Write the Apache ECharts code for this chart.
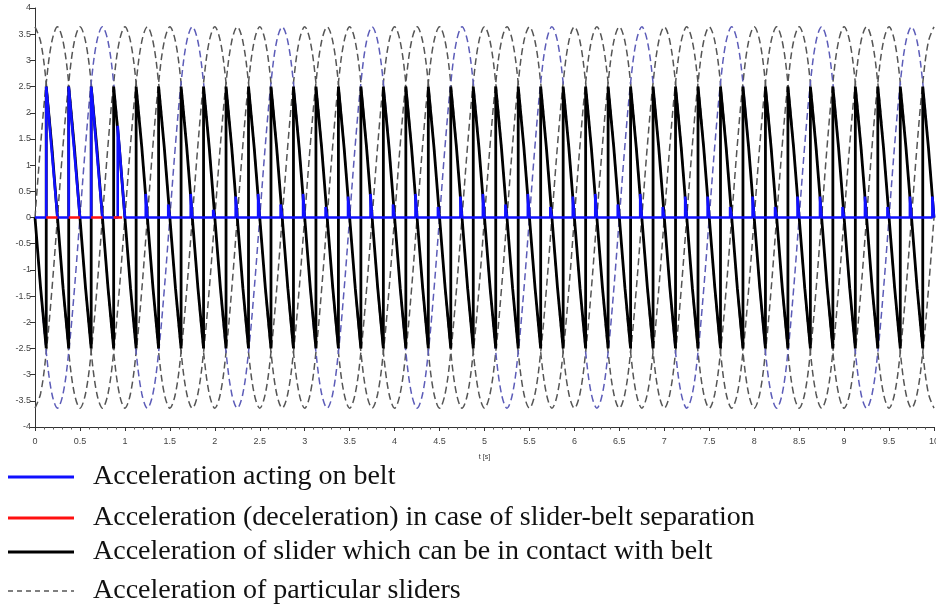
<!DOCTYPE html>
<html>
<head>
<meta charset="utf-8">
<script src="https://cdn.jsdelivr.net/npm/echarts@6/dist/echarts.min.js"></script>
<style>
  html, body { margin: 0; padding: 0; background: #fff; }
  #chart { width: 936px; height: 608px; }
</style>
</head>
<body>
<div id="chart"></div>
<script>
// ---- data ----
// one period (1 s) of a slider's acceleration, sampled every 1/16 s, peak at t = 0
const sliderCycle = [3.64, 3.36, 2.57, 1.39, 0, -1.39, -2.57, -3.36, -3.64, -3.36, -2.57, -1.39, 0, 1.39, 2.57, 3.36];
const sliderStep = 1 / 16;
// time of first peak of each particular slider (s)
const sliderPeaks = [0, 0.25, 0.5, 0.75];
const sliderColors = ['#555555', '#555555', '#555555', '#5c5cb8'];
// one tooth of the "slider in contact" curve: [time offset, value]
const contactTooth = [[0, -2.5], [0, 2.5], [0.0625, 1.35], [0.125, 0], [0.1875, -1.35], [0.25, -2.5]];
const toothFirstJump = 0.125;   // time of first jump
const toothPeriod = 0.25;
// belt acceleration: first teeth [jump time, peak value, time back at zero]
const beltTeeth = [[0.125, 2.5, 0.25], [0.375, 2.5, 0.5], [0.625, 2.5, 0.75], [0.92, 1.75, 1.0]];
// later small spikes on belt acceleration at t = 1.25, 1.5, ... 10
const spikeTimes = [1.25, 1.5, 1.75, 2, 2.25, 2.5, 2.75, 3, 3.25, 3.5, 3.75, 4, 4.25, 4.5, 4.75, 5, 5.25, 5.5, 5.75, 6, 6.25, 6.5, 6.75, 7, 7.25, 7.5, 7.75, 8, 8.25, 8.5, 8.75, 9, 9.25, 9.5, 9.75, 10];
const spikeHeights = [0.45, 0.25, 0.45, 0.15, 0.4, 0.45, 0.25, 0.45, 0.2, 0.4, 0.45, 0.25, 0.45, 0.2, 0.4, 0.45, 0.25, 0.45, 0.2, 0.4, 0.45, 0.25, 0.45, 0.2, 0.4, 0.4, 0.2, 0.4, 0.2, 0.4, 0.4, 0.2, 0.4, 0.2, 0.4, 0.4];
// separation (red) segments at zero: [start, end]
const separation = [[0.125, 0.25], [0.375, 0.5], [0.625, 0.75], [0.875, 0.97]];
const legendNames = [
  'Acceleration acting on belt',
  'Acceleration (deceleration) in case of slider-belt separation',
  'Acceleration of slider which can be in contact with belt',
  'Acceleration of particular sliders'
];

const T0 = 0, T1 = 10;

// ---- build series data ----
function sliderData(peak) {
  const out = [];
  for (let n = -2; n <= 11; n++) {
    for (let i = 0; i < sliderCycle.length; i++) {
      const t = +(n + peak + i * sliderStep).toFixed(6);
      if (t >= T0 - 1e-9 && t <= T1 + 1e-9) out.push([t, sliderCycle[i]]);
    }
  }
  out.sort((a, b) => a[0] - b[0]);
  return out;
}

const contactData = [];
for (let k = -1; k * toothPeriod + toothFirstJump <= T1; k++) {
  const s = toothFirstJump + k * toothPeriod;
  contactTooth.forEach(([dt, v]) => {
    const t = +(s + dt).toFixed(6);
    if (t >= T0 - 1e-9 && t <= T1 + 1e-9) contactData.push([t, v]);
  });
}

const beltData = [[0, 0]];
beltTeeth.forEach(([ts, pk, te]) => {
  beltData.push([ts, 0], [ts, pk], [te, 0]);
});
spikeTimes.forEach((t, i) => {
  beltData.push([t - 0.018, 0], [t - 0.018, spikeHeights[i]], [Math.min(t, T1), 0]);
});

const sepData = [];
separation.forEach(([a, b]) => { sepData.push([a, 0], [b, 0], [b, null]); });

const series = [];
sliderPeaks.forEach((p, i) => {
  series.push({
    type: 'line', name: legendNames[3], data: sliderData(p), smooth: 0.35,
    showSymbol: false, symbol: 'none', z: 1,
    lineStyle: { color: sliderColors[i], width: 1.5, type: [7, 4] }
  });
});
series.push({
  type: 'line', name: legendNames[2], data: contactData, symbol: 'none', z: 2,
  lineStyle: { color: '#000', width: 2.8 }
});
series.push({
  type: 'line', name: legendNames[0], data: beltData, symbol: 'none', z: 3,
  lineStyle: { color: '#1010ff', width: 2.6 }
});
series.push({
  type: 'line', name: legendNames[1], data: sepData, symbol: 'none', z: 4, connectNulls: false,
  lineStyle: { color: '#ff1010', width: 2.6 }
});

// ---- legend drawn as graphics ----
const legendRows = [
  { y: 477, color: '#1010ff', dash: null, width: 3 },
  { y: 518, color: '#ff1010', dash: null, width: 3 },
  { y: 552, color: '#000000', dash: null, width: 3 },
  { y: 591, color: '#555555', dash: [5, 4], width: 1.3 }
];
const legendOrder = [0, 1, 2, 3];
const graphic = [];
legendRows.forEach((r, i) => {
  graphic.push({
    type: 'line', shape: { x1: 8, y1: r.y, x2: 74, y2: r.y },
    style: { stroke: r.color, lineWidth: r.width, lineDash: r.dash || null }
  });
  graphic.push({
    type: 'text', x: 93, y: r.y,
    style: { text: legendNames[legendOrder[i]], font: '28px "Liberation Serif", "Times New Roman", serif', fill: '#111', textVerticalAlign: 'middle', verticalAlign: 'middle' }
  });
});

const chart = echarts.init(document.getElementById('chart'), null, { renderer: 'canvas' });
chart.setOption({
  animation: false,
  backgroundColor: '#fff',
  grid: { left: 35, right: 2, top: 8, bottom: 181, containLabel: false, outerBoundsMode: 'none' },
  xAxis: {
    type: 'value', min: 0, max: 10, interval: 0.5,
    name: 't [s]', nameLocation: 'middle', nameGap: 27,
    nameTextStyle: { fontSize: 7, color: '#333', fontFamily: 'Liberation Sans' },
    axisLine: { show: true, onZero: false, lineStyle: { color: '#333', width: 1 } },
    axisTick: { show: true, length: 4, lineStyle: { color: '#333' } },
    minorTick: { show: true, splitNumber: 5, length: 2.5, lineStyle: { color: '#555' } },
    axisLabel: { fontSize: 9, color: '#444', margin: 10, fontFamily: 'Liberation Sans', hideOverlap: false },
    splitLine: { show: false }
  },
  yAxis: {
    type: 'value', min: -4, max: 4, interval: 0.5,
    axisLine: { show: true, onZero: false, lineStyle: { color: '#333', width: 1 } },
    axisTick: { show: true, length: 5, lineStyle: { color: '#333' } },
    axisLabel: { fontSize: 9, color: '#444', margin: 4, fontFamily: 'Liberation Sans' },
    splitLine: { show: false }
  },
  series: series,
  graphic: graphic
});
</script>
</body>
</html>
